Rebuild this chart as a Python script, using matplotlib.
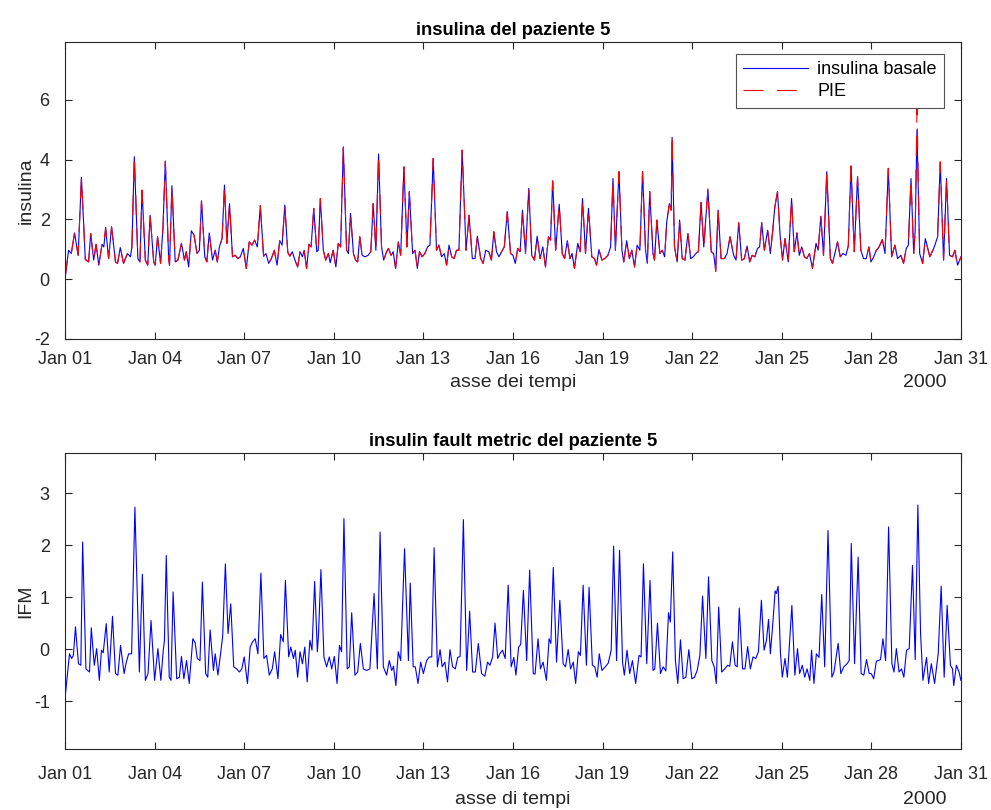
import numpy as np
import matplotlib
matplotlib.use('Agg')
import matplotlib.pyplot as plt
import matplotlib.dates as mdates

plt.rcParams['font.family'] = ['Liberation Sans', 'DejaVu Sans']
plt.rcParams['axes.unicode_minus'] = False

# ---- data (days after 2000-01-01) ----
ins_days = [
    0.00, 0.12, 0.21, 0.32, 0.44, 0.55, 0.68, 0.79, 0.86, 0.96,
    1.04, 1.13, 1.24, 1.30, 1.36, 1.46, 1.56, 1.69, 1.76, 1.85,
    1.96, 2.09, 2.19, 2.24, 2.32, 2.44, 2.51, 2.58, 2.69, 2.77,
    2.85, 2.97, 3.02, 3.10, 3.20, 3.28, 3.36, 3.47, 3.50, 3.58,
    3.69, 3.78, 3.90, 4.00, 4.06, 4.14, 4.23, 4.32, 4.42, 4.50,
    4.57, 4.68, 4.75, 4.83, 4.94, 5.03, 5.10, 5.17, 5.26, 5.34,
    5.42, 5.51, 5.61, 5.70, 5.79, 5.87, 5.97, 6.07, 6.17, 6.26,
    6.35, 6.44, 6.54, 6.65, 6.73, 6.82, 6.91, 7.01, 7.10, 7.19,
    7.27, 7.36, 7.46, 7.53, 7.61, 7.70, 7.79, 7.87, 7.95, 8.01,
    8.09, 8.17, 8.24, 8.33, 8.43, 8.48, 8.55, 8.65, 8.73, 8.82,
    8.88, 8.98, 9.07, 9.15, 9.23, 9.32, 9.43, 9.49, 9.56, 9.66,
    9.73, 9.80, 9.87, 9.95, 10.04, 10.15, 10.24, 10.32, 10.41, 10.50,
    10.60, 10.67, 10.77, 10.83, 10.92, 10.99, 11.07, 11.16, 11.24, 11.35,
    11.45, 11.53, 11.64, 11.72, 11.80, 11.87, 11.96, 12.05, 12.14, 12.22,
    12.33, 12.44, 12.52, 12.61, 12.70, 12.78, 12.86, 12.95, 13.03, 13.11,
    13.19, 13.30, 13.43, 13.53, 13.64, 13.73, 13.81, 13.92, 14.00, 14.09,
    14.19, 14.28, 14.36, 14.45, 14.53, 14.62, 14.71, 14.81, 14.92, 15.00,
    15.08, 15.16, 15.24, 15.32, 15.42, 15.53, 15.63, 15.72, 15.81, 15.91,
    16.00, 16.09, 16.19, 16.26, 16.33, 16.43, 16.55, 16.65, 16.73, 16.82,
    16.91, 16.98, 17.06, 17.17, 17.25, 17.33, 17.43, 17.53, 17.64, 17.73,
    17.80, 17.88, 17.98, 18.07, 18.18, 18.27, 18.35, 18.43, 18.55, 18.65,
    18.71, 18.81, 18.90, 18.98, 19.07, 19.16, 19.25, 19.34, 19.44, 19.50,
    19.58, 19.69, 19.74, 19.82, 19.92, 20.00, 20.08, 20.15, 20.24, 20.30,
    20.33, 20.41, 20.50, 20.58, 20.67, 20.76, 20.86, 20.95, 21.04, 21.12,
    21.21, 21.30, 21.39, 21.53, 21.64, 21.72, 21.79, 21.87, 21.97, 22.08,
    22.17, 22.27, 22.39, 22.47, 22.56, 22.66, 22.75, 22.84, 22.93, 23.01,
    23.10, 23.19, 23.26, 23.33, 23.42, 23.53, 23.62, 23.70, 23.77, 23.86,
    23.95, 24.03, 24.11, 24.22, 24.33, 24.42, 24.51, 24.59, 24.67, 24.76,
    24.84, 24.93, 25.03, 25.15, 25.22, 25.31, 25.40, 25.51, 25.63, 25.70,
    25.78, 25.87, 25.96, 26.05, 26.15, 26.23, 26.32, 26.43, 26.54, 26.65,
    26.74, 26.83, 26.92, 26.99, 27.08, 27.17, 27.26, 27.37, 27.46, 27.57,
    27.68, 27.79, 27.88, 27.99, 28.08, 28.17, 28.24, 28.33, 28.42, 28.47,
    28.53, 28.62, 28.72, 28.81, 28.89, 28.96, 29.04, 29.13, 29.22, 29.31,
    29.42, 29.52, 29.62, 29.72, 29.80, 29.89, 30.00,
]
ins_basale = [
    0.02, 0.97, 0.86, 1.55, 0.80, 3.41, 0.66, 0.58, 1.53, 0.64,
    1.17, 0.47, 1.17, 1.08, 1.73, 0.69, 1.75, 0.58, 0.53, 1.06,
    0.53, 0.86, 0.75, 1.08, 4.10, 0.69, 0.58, 2.98, 0.64, 0.47,
    2.14, 0.58, 0.47, 1.42, 0.53, 1.70, 3.95, 0.69, 0.47, 3.13,
    0.58, 0.64, 1.20, 0.64, 0.92, 0.41, 1.62, 1.48, 0.86, 0.97,
    2.62, 0.75, 0.58, 1.55, 0.64, 0.97, 0.58, 1.08, 1.36, 3.15,
    1.20, 2.53, 0.75, 0.80, 0.69, 0.75, 1.03, 0.36, 1.25, 1.14,
    1.31, 1.08, 2.46, 0.77, 0.86, 0.53, 0.69, 0.97, 0.47, 1.29,
    1.14, 2.48, 0.90, 0.77, 0.92, 0.64, 0.41, 0.92, 0.75, 0.97,
    0.36, 1.17, 1.08, 2.37, 0.92, 0.97, 2.70, 0.97, 0.64, 0.86,
    0.55, 0.97, 0.41, 1.20, 1.08, 4.43, 0.97, 0.86, 2.20, 0.86,
    0.64, 0.58, 1.42, 0.80, 0.75, 0.80, 0.92, 2.53, 0.97, 4.19,
    1.08, 0.64, 0.92, 1.03, 0.80, 0.92, 0.36, 1.25, 0.80, 3.76,
    1.08, 2.93, 0.86, 0.97, 0.36, 0.92, 0.75, 0.86, 1.08, 1.14,
    4.04, 0.97, 1.14, 0.75, 0.86, 0.47, 1.14, 0.75, 0.69, 0.97,
    0.97, 4.32, 0.97, 2.14, 0.69, 0.69, 1.44, 0.69, 0.53, 0.97,
    0.92, 0.64, 1.59, 0.92, 0.75, 0.92, 1.08, 2.26, 0.86, 0.80,
    0.53, 1.03, 0.92, 2.31, 0.86, 3.04, 0.80, 0.64, 1.44, 0.69,
    1.08, 0.41, 1.42, 1.31, 3.29, 0.97, 2.51, 0.86, 0.69, 1.29,
    0.69, 0.86, 0.36, 1.20, 0.92, 2.70, 0.86, 2.37, 0.75, 0.69,
    0.47, 0.99, 0.64, 0.69, 0.80, 1.08, 3.37, 0.97, 3.60, 0.97,
    0.58, 1.29, 0.69, 0.97, 0.41, 1.14, 0.97, 3.60, 0.97, 0.53,
    2.93, 0.86, 0.64, 1.98, 0.86, 0.97, 0.75, 1.92, 2.53, 2.31,
    4.75, 1.08, 0.58, 1.98, 0.69, 0.64, 1.53, 0.69, 0.75, 0.86,
    0.92, 2.57, 1.08, 3.02, 0.92, 0.86, 0.30, 2.31, 0.69, 0.69,
    0.86, 1.42, 0.80, 0.64, 1.89, 0.64, 0.69, 1.11, 0.58, 0.80,
    0.75, 1.03, 1.08, 1.89, 0.97, 1.64, 0.86, 1.64, 2.42, 2.93,
    1.42, 0.64, 1.36, 0.58, 2.70, 0.92, 1.55, 0.80, 1.08, 0.75,
    0.69, 0.86, 0.36, 1.20, 0.97, 2.11, 0.80, 3.60, 0.69, 0.53,
    0.86, 1.25, 0.75, 0.86, 0.80, 1.11, 3.79, 0.92, 3.43, 0.97,
    0.69, 0.69, 1.08, 0.58, 0.75, 0.97, 1.08, 1.33, 0.86, 3.71,
    0.75, 1.14, 0.69, 0.80, 0.53, 1.03, 1.14, 3.37, 0.86, 1.64,
    5.00, 0.86, 0.53, 1.36, 1.03, 0.75, 0.92, 1.14, 1.42, 3.90,
    0.64, 3.37, 0.80, 0.75, 0.97, 0.47, 0.75,
]
# points where the red PIE trace differs from the basal trace
pie_diff_days = [2.32, 9.32, 20.33, 21.79, 28.53, 29.31, 29.89]
pie_diff_vals = [4.15, 4.40, 4.86, 0.26, 5.70, 3.93, 0.40]

ifm_days = [
    0.00, 0.15, 0.22, 0.28, 0.35, 0.45, 0.53, 0.59, 0.70, 0.82,
    0.88, 0.98, 1.06, 1.15, 1.22, 1.28, 1.38, 1.48, 1.59, 1.69,
    1.77, 1.86, 1.98, 2.04, 2.13, 2.23, 2.34, 2.49, 2.59, 2.69,
    2.78, 2.88, 3.00, 3.11, 3.21, 3.29, 3.33, 3.39, 3.49, 3.55,
    3.62, 3.74, 3.83, 3.90, 3.98, 4.07, 4.16, 4.28, 4.36, 4.43,
    4.52, 4.60, 4.71, 4.78, 4.86, 4.97, 5.03, 5.12, 5.21, 5.28,
    5.37, 5.46, 5.55, 5.65, 5.75, 5.84, 5.92, 6.00, 6.11, 6.20,
    6.28, 6.37, 6.46, 6.56, 6.66, 6.75, 6.84, 6.94, 7.02, 7.13,
    7.22, 7.31, 7.38, 7.49, 7.56, 7.65, 7.71, 7.79, 7.87, 7.95,
    8.03, 8.11, 8.20, 8.27, 8.36, 8.45, 8.49, 8.57, 8.67, 8.76,
    8.85, 8.93, 9.02, 9.11, 9.19, 9.26, 9.34, 9.45, 9.52, 9.60,
    9.71, 9.80, 9.89, 9.99, 10.10, 10.21, 10.35, 10.46, 10.55, 10.66,
    10.77, 10.86, 10.94, 11.00, 11.08, 11.16, 11.24, 11.37, 11.50, 11.56,
    11.66, 11.73, 11.82, 11.91, 12.00, 12.11, 12.20, 12.28, 12.36, 12.47,
    12.56, 12.63, 12.72, 12.81, 12.89, 12.98, 13.07, 13.15, 13.23, 13.34,
    13.45, 13.55, 13.65, 13.74, 13.84, 13.95, 14.06, 14.15, 14.23, 14.32,
    14.40, 14.49, 14.56, 14.65, 14.74, 14.84, 14.94, 15.03, 15.10, 15.19,
    15.26, 15.35, 15.46, 15.56, 15.68, 15.74, 15.84, 15.92, 16.01, 16.12,
    16.21, 16.27, 16.35, 16.46, 16.57, 16.68, 16.76, 16.85, 16.93, 17.02,
    17.10, 17.19, 17.26, 17.35, 17.46, 17.55, 17.66, 17.74, 17.82, 17.89,
    17.98, 18.09, 18.19, 18.29, 18.37, 18.47, 18.57, 18.67, 18.73, 18.82,
    18.91, 19.00, 19.11, 19.22, 19.29, 19.37, 19.48, 19.59, 19.69, 19.75,
    19.84, 19.94, 20.03, 20.12, 20.21, 20.27, 20.35, 20.44, 20.52, 20.61,
    20.70, 20.79, 20.89, 20.99, 21.08, 21.17, 21.26, 21.35, 21.46, 21.55,
    21.66, 21.74, 21.81, 21.89, 21.99, 22.09, 22.19, 22.26, 22.35, 22.44,
    22.51, 22.58, 22.69, 22.77, 22.86, 22.95, 23.04, 23.13, 23.22, 23.32,
    23.41, 23.49, 23.56, 23.62, 23.71, 23.78, 23.82, 23.88, 23.96, 24.02,
    24.11, 24.19, 24.34, 24.44, 24.53, 24.60, 24.69, 24.77, 24.85, 24.94,
    25.00, 25.08, 25.16, 25.25, 25.34, 25.44, 25.55, 25.68, 25.75, 25.89,
    25.98, 26.08, 26.19, 26.26, 26.33, 26.44, 26.56, 26.66, 26.75, 26.84,
    26.93, 27.00, 27.08, 27.17, 27.24, 27.31, 27.39, 27.48, 27.58, 27.69,
    27.76, 27.84, 27.93, 28.01, 28.09, 28.18, 28.27, 28.38, 28.47, 28.56,
    28.65, 28.73, 28.85, 28.92, 29.01, 29.12, 29.24, 29.34, 29.44, 29.54,
    29.65, 29.72, 29.76, 29.85, 29.94, 30.00,
]
ifm_vals = [
    -0.95, -0.09, -0.18, -0.12, 0.43, -0.28, -0.31, 2.06, -0.38, -0.44,
    0.41, -0.31, 0.01, -0.60, -0.02, -0.07, 0.49, -0.44, 0.63, -0.47,
    -0.50, 0.07, -0.47, -0.28, -0.09, -0.09, 2.73, -0.44, 1.44, -0.60,
    -0.47, 0.55, -0.60, 0.01, -0.60, -0.02, 0.17, 1.80, -0.54, -0.60,
    1.10, -0.57, -0.54, -0.14, -0.57, -0.22, -0.66, 0.20, 0.12, -0.18,
    -0.22, 1.29, -0.47, -0.54, 0.37, -0.41, -0.09, -0.50, -0.09, 0.25,
    1.64, 0.30, 0.87, -0.34, -0.38, -0.44, -0.38, -0.15, -0.66, 0.04,
    0.14, 0.20, -0.09, 1.46, -0.18, -0.12, -0.50, -0.38, -0.05, -0.57,
    0.28, 0.14, 1.32, -0.15, 0.04, -0.18, -0.02, -0.54, -0.05, -0.28,
    0.04, -0.63, 0.17, -0.02, 1.30, -0.05, 0.30, 1.53, -0.15, -0.34,
    -0.15, -0.38, -0.14, -0.66, 0.07, -0.05, 2.51, -0.38, -0.34, 0.70,
    -0.50, -0.44, 0.11, -0.38, -0.41, -0.38, 1.07, -0.38, 2.25, -0.34,
    -0.50, -0.22, -0.41, -0.33, -0.70, -0.05, -0.22, 1.93, -0.22, 1.27,
    -0.34, -0.34, -0.66, -0.25, -0.47, -0.22, -0.15, -0.15, 1.95, -0.34,
    -0.01, -0.34, -0.25, -0.63, -0.01, -0.34, -0.38, -0.16, -0.14, 2.49,
    -0.41, 0.73, -0.44, -0.44, 0.11, -0.47, -0.52, -0.25, -0.31, -0.15,
    0.50, -0.18, -0.09, -0.02, -0.18, 1.23, -0.34, -0.16, -0.50, 0.04,
    0.09, 1.13, -0.22, 1.52, -0.47, -0.48, 0.20, -0.38, -0.25, -0.60,
    0.20, 0.11, 1.57, -0.25, 0.94, -0.28, -0.34, -0.01, -0.38, -0.25,
    -0.66, -0.05, -0.12, 1.23, -0.31, 1.19, -0.31, -0.34, -0.54, -0.09,
    -0.41, -0.34, -0.27, -0.02, 1.98, -0.22, 1.90, -0.25, -0.50, -0.02,
    -0.47, -0.22, -0.66, -0.12, -0.15, 1.64, -0.28, 1.32, -0.41, -0.38,
    0.50, -0.47, -0.34, -0.42, 0.70, 0.52, 1.87, -0.22, -0.66, 0.18,
    -0.57, -0.54, -0.01, -0.57, -0.54, -0.41, -0.12, 1.02, -0.18, 1.39,
    -0.22, -0.34, -0.66, 0.81, -0.44, -0.38, -0.31, -0.33, 0.14, -0.31,
    -0.34, 0.79, -0.38, -0.38, 0.05, -0.38, -0.15, -0.18, -0.05, 0.94,
    -0.02, 0.17, 0.57, -0.09, 0.55, 1.12, 1.07, 1.21, -0.09, -0.54,
    -0.18, -0.54, 0.84, -0.50, 0.01, -0.47, -0.31, -0.54, -0.38, -0.60,
    -0.02, -0.66, -0.09, -0.16, 1.05, -0.34, 2.28, -0.54, -0.44, 0.11,
    -0.47, -0.34, -0.28, -0.22, 2.03, -0.28, 1.77, -0.47, -0.50, -0.20,
    -0.47, -0.47, -0.57, -0.23, -0.22, -0.20, 0.20, -0.22, 2.35, -0.28,
    -0.44, 0.01, -0.44, -0.38, -0.54, -0.02, 0.01, 1.61, -0.20, 2.77,
    0.30, -0.60, -0.16, -0.66, -0.28, -0.66, -0.09, 1.21, -0.54, 0.84,
    -0.31, -0.38, -0.70, -0.31, -0.44, -0.60,
]

start = np.datetime64('2000-01-01T00:00')


def to_dates(days):
    minutes = np.round(np.asarray(days) * 1440).astype('timedelta64[m]')
    return start + minutes


ins_t = to_dates(ins_days)
pie = np.array(ins_basale, dtype=float)
for d, v in zip(pie_diff_days, pie_diff_vals):
    pie[np.isclose(ins_days, d)] = v
ifm_t = to_dates(ifm_days)

axis_col = '#262626'
fig = plt.figure(figsize=(9.91, 8.10), dpi=100)
ax1 = fig.add_axes([0.0656, 0.5815, 0.904, 0.3667])
ax2 = fig.add_axes([0.0656, 0.0753, 0.904, 0.3654])

ax1.plot(ins_t, ins_basale, color='#0000ff', lw=0.8, label='insulina basale')
ax1.plot(ins_t, pie, color='#ff0000', lw=0.8, linestyle=(0, (18, 12)), label='PIE')
ax2.plot(ifm_t, ifm_vals, color='#0000ff', lw=0.8)

ax1.set_ylim(-2, 7.94)
ax1.set_yticks([-2, 0, 2, 4, 6])
ax2.set_ylim(-1.92, 3.77)
ax2.set_yticks([-1, 0, 1, 2, 3])

# per-panel text offsets (tick pad, xlabel y in axes coords)
panels = [
    (ax1, 'insulina del paziente 5', 'asse dei tempi', 'insulina', 8.5, -0.118),
    (ax2, 'insulin fault metric del paziente 5', 'asse di tempi', 'IFM', 12.5, -0.142),
]
for ax, title, xl, yl, xpad, xly in panels:
    ax.set_xlim(start, np.datetime64('2000-01-31T00:00'))
    ax.xaxis.set_major_locator(mdates.DayLocator(bymonthday=[1, 4, 7, 10, 13, 16, 19, 22, 25, 28, 31]))
    ax.xaxis.set_major_formatter(mdates.DateFormatter('%b %d'))
    ax.tick_params(direction='in', top=True, right=True, length=5, width=0.8,
                   colors=axis_col, labelsize=13)
    ax.tick_params(axis='x', pad=xpad)
    ax.tick_params(axis='y', pad=11)
    for s in ax.spines.values():
        s.set_color(axis_col)
        s.set_linewidth(0.8)
    ax.set_title(title, fontsize=13.2, fontweight='bold', pad=5)
    ax.set_xlabel(xl, fontsize=14, color=axis_col)
    ax.set_ylabel(yl, fontsize=14, color=axis_col)
    ax.xaxis.set_label_coords(0.5, xly)
    ax.yaxis.set_label_coords(-0.034, 0.5)
    ax.text(0.96, xly, '2000', transform=ax.transAxes, ha='center', va='top',
            fontsize=14, color=axis_col)

leg = ax1.legend(loc='upper right', bbox_to_anchor=(0.981, 0.96), fontsize=13,
                 fancybox=False, edgecolor=axis_col, handlelength=3.6,
                 borderpad=0.4, labelspacing=0.3, handletextpad=0.5,
                 borderaxespad=0)
leg.get_frame().set_linewidth(0.8)

fig.savefig('out.png', dpi=100)
